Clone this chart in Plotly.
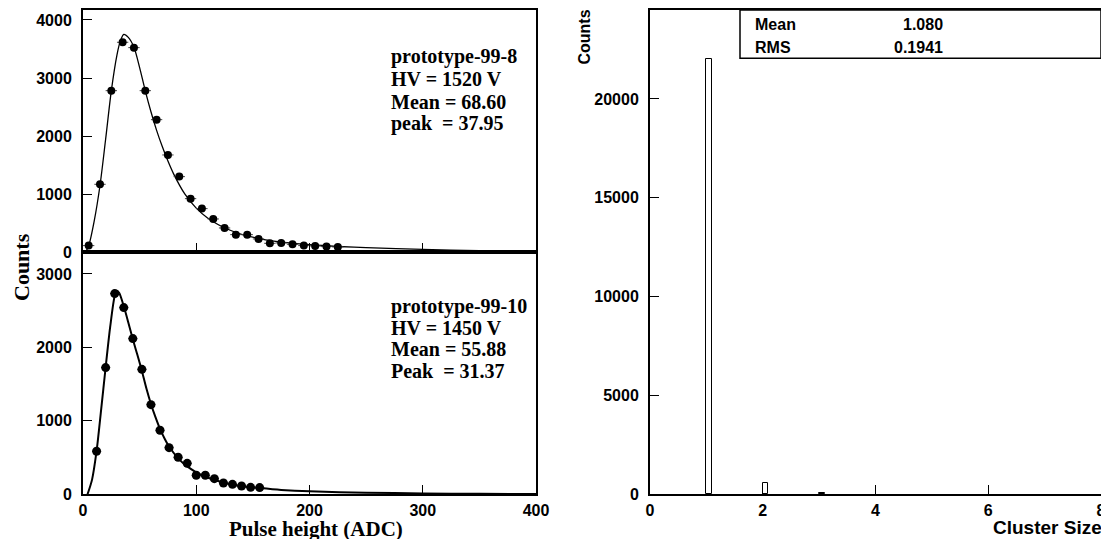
import plotly.graph_objects as go

W, H = 1109, 539
OFF = 8  # page body margin offset

# ---------------- data ----------------
# top-left panel: prototype-99-8
top_x = [5, 15, 25, 35, 45, 55, 65, 75, 85, 95, 105, 115, 125, 135, 145, 155, 165, 175, 185, 195, 205, 215, 225]
top_counts = [115, 1171, 2783, 3616, 3524, 2783, 2284, 1676, 1303, 924, 752, 574, 419, 304, 304, 230, 155, 161, 138, 115, 109, 98, 92]
top_fit_x = [3, 5, 10, 15, 20, 25, 30, 33, 36, 40, 45, 50, 55, 60, 65, 70, 75, 80, 90, 100, 110, 120, 130, 140, 160, 180, 200, 225, 250, 300, 350, 400]
top_fit_y = [30, 110, 550, 1150, 1950, 2780, 3400, 3640, 3753, 3700, 3530, 3180, 2780, 2420, 2100, 1820, 1570, 1350, 1000, 760, 590, 470, 380, 310, 220, 165, 130, 100, 80, 50, 30, 15]
top_text = ["prototype-99-8", "HV = 1520 V", "Mean = 68.60", "peak  = 37.95"]

# bottom-left panel: prototype-99-10
bot_x = [12, 20, 28, 36, 44, 52, 60, 68, 76, 84, 92, 100, 108, 116, 124, 132, 140, 148, 156]
bot_counts = [586, 1725, 2733, 2542, 2120, 1702, 1221, 872, 635, 504, 422, 259, 259, 213, 154, 136, 113, 95, 91]
bot_fit_x = [4, 8, 12, 16, 20, 24, 28, 30, 32, 36, 40, 44, 48, 52, 56, 60, 64, 68, 72, 76, 84, 92, 100, 108, 116, 124, 132, 140, 156, 175, 200, 250, 300, 350, 400]
bot_fit_y = [0, 200, 590, 1150, 1730, 2280, 2700, 2770, 2740, 2560, 2340, 2110, 1900, 1680, 1440, 1230, 1050, 890, 760, 650, 490, 380, 300, 240, 195, 160, 130, 110, 85, 60, 40, 22, 12, 6, 3]
bot_text = ["prototype-99-10", "HV = 1450 V", "Mean = 55.88", "Peak  = 31.37"]

# right panel: cluster size histogram
cluster_size = [1, 2, 3]
cluster_counts = [22040, 556, 60]
stat_labels = ["Mean", "RMS"]
stat_values = ["1.080", "0.1941"]

left_xticks = [0, 100, 200, 300, 400]
top_yticks = [0, 1000, 2000, 3000, 4000]
bot_yticks = [0, 1000, 2000, 3000]
right_xticks = [0, 2, 4, 6, 8]
right_yticks = [0, 5000, 10000, 15000, 20000]

# ---------------- layout helpers (screen pixels -> paper) ----------------
def px(x):
    return (x - OFF) / W

def py(y):
    return 1 - (y - OFF) / H

LX0, LX1 = 83, 536
TOP_Y0, MID_Y, BOT_Y1 = 10, 252.3, 494.3
RX0, RX1 = 650, 1101
R_TOP = 10

serif = "Liberation Serif"
sans = "Liberation Sans"
tick_font_l = dict(family=sans, size=16, color="black", weight="bold")
tick_font_r = dict(family=sans, size=16, color="black", weight="bold")

fig = go.Figure()

# top-left
fig.add_trace(go.Scatter(x=top_fit_x, y=top_fit_y, mode="lines", line=dict(color="black", width=1.3, shape="spline", smoothing=0.8),
                         xaxis="x", yaxis="y", showlegend=False, hoverinfo="skip"))
fig.add_trace(go.Scatter(x=top_x, y=top_counts, mode="markers", marker=dict(color="black", size=8),
                         error_x=dict(type="constant", value=5, width=0, thickness=1, color="#444"),
                         xaxis="x", yaxis="y", showlegend=False))
# bottom-left
fig.add_trace(go.Scatter(x=bot_fit_x, y=bot_fit_y, mode="lines", line=dict(color="black", width=2, shape="spline", smoothing=0.8),
                         xaxis="x2", yaxis="y2", showlegend=False, hoverinfo="skip"))
fig.add_trace(go.Scatter(x=bot_x, y=bot_counts, mode="markers", marker=dict(color="black", size=9),
                         error_x=dict(type="constant", value=4, width=0, thickness=1, color="#444"),
                         xaxis="x2", yaxis="y2", showlegend=False))
# right
fig.add_trace(go.Bar(x=cluster_size, y=cluster_counts, width=0.1, offset=0,
                     marker=dict(color="white", line=dict(color="black", width=1)),
                     xaxis="x3", yaxis="y3", showlegend=False))

axis_common = dict(showline=True, linewidth=2, linecolor="black", mirror=True, ticks="inside", ticklen=9,
                   tickwidth=1.3, tickcolor="black", showgrid=False, zeroline=False, automargin=False,
                   tickformat="d")

fig.update_layout(
    template="none",
    width=W, height=H,
    margin=dict(l=0, r=0, t=0, b=0, autoexpand=False),
    paper_bgcolor="white", plot_bgcolor="white",
    xaxis=dict(domain=[px(LX0), px(LX1)], range=[0, 400], tickvals=left_xticks, showticklabels=False,
               anchor="y", **axis_common),
    yaxis=dict(domain=[py(MID_Y), py(TOP_Y0)], range=[0, (MID_Y - TOP_Y0) / 0.05808], tickvals=top_yticks,
               tickfont=tick_font_l, ticklabelstandoff=6, anchor="x", **axis_common),
    xaxis2=dict(domain=[px(LX0), px(LX1)], range=[0, 400], tickvals=left_xticks, tickfont=tick_font_l,
                ticklabelstandoff=0, anchor="y2", **axis_common),
    yaxis2=dict(domain=[py(BOT_Y1), py(MID_Y)], range=[0, (BOT_Y1 - MID_Y) / 0.07344], tickvals=bot_yticks,
                tickfont=tick_font_l, ticklabelstandoff=6, anchor="x2", **axis_common),
    xaxis3=dict(domain=[px(RX0), px(RX1)], range=[0, 8], tickvals=right_xticks, tickfont=tick_font_r,
                ticklabelstandoff=0, anchor="y3", **axis_common),
    yaxis3=dict(domain=[py(BOT_Y1), py(R_TOP)], range=[0, (BOT_Y1 - R_TOP) / 0.019767], tickvals=right_yticks,
                tickfont=tick_font_r, ticklabelstandoff=6, anchor="x3", **axis_common),
    bargap=0,
)

annotations = []
# panel texts
for i, t in enumerate(top_text):
    annotations.append(dict(x=px(389), y=py([56, 79, 102, 124][i]), xref="paper", yref="paper", text=t,
                            showarrow=False, xanchor="left", yanchor="middle",
                            font=dict(family=serif, size=20, color="black", weight="bold")))
for i, t in enumerate(bot_text):
    annotations.append(dict(x=px(389), y=py([306, 328, 349, 371][i]), xref="paper", yref="paper", text=t,
                            showarrow=False, xanchor="left", yanchor="middle",
                            font=dict(family=serif, size=20, color="black", weight="bold")))
# axis titles
annotations.append(dict(x=px(21), y=py(267), xref="paper", yref="paper", text="Counts", textangle=-90,
                        showarrow=False, xanchor="center", yanchor="middle", borderpad=0,
                        font=dict(family=serif, size=22, color="black", weight="bold")))
annotations.append(dict(x=px(316), y=py(529), xref="paper", yref="paper", text="Pulse height (ADC)",
                        showarrow=False, xanchor="center", yanchor="middle", borderpad=0,
                        font=dict(family=serif, size=21, color="black", weight="bold")))
annotations.append(dict(x=px(584), y=py(8), xref="paper", yref="paper", text="Counts", textangle=-90,
                        showarrow=False, xanchor="center", yanchor="top",
                        font=dict(family=sans, size=16, color="black", weight="bold")))
annotations.append(dict(x=px(1104), y=py(527), xref="paper", yref="paper", text="Cluster Size",
                        showarrow=False, xanchor="right", yanchor="middle",
                        font=dict(family=sans, size=19, color="black", weight="bold")))
# stat box
for i, (lab, val) in enumerate(zip(stat_labels, stat_values)):
    yy = [25, 48][i]
    annotations.append(dict(x=px(753), y=py(yy), xref="paper", yref="paper", text=lab, showarrow=False,
                            xanchor="left", yanchor="middle", font=dict(family=sans, size=16, color="black", weight="bold")))
    annotations.append(dict(x=px(945), y=py(yy), xref="paper", yref="paper", text=val, showarrow=False,
                            xanchor="right", yanchor="middle", font=dict(family=sans, size=16, color="black", weight="bold")))
fig.update_layout(annotations=annotations)

fig.add_shape(type="rect", xref="paper", yref="paper", x0=px(740), x1=px(RX1), y0=py(58.3), y1=py(R_TOP),
              line=dict(color="black", width=1.5), fillcolor="white", layer="above")

fig.write_html("out.html")
